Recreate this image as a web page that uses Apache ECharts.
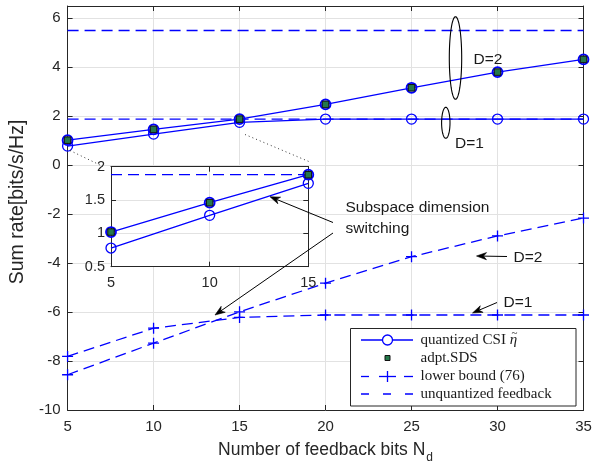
<!DOCTYPE html>
<html><head><meta charset="utf-8">
<script src="https://cdn.jsdelivr.net/npm/echarts@6/dist/echarts.min.js"></script>
<style>html,body{margin:0;padding:0;background:#fff}#c{width:599px;height:469px}</style>
</head><body><div id="c"></div>
<script>
// ---------------- data ----------------
const feedbackBits = [5, 10, 15, 20, 25, 30, 35];
const quantD1 = [0.78, 1.27, 1.75, 1.88, 1.88, 1.88, 1.88];
const quantD2 = [1.02, 1.46, 1.88, 2.48, 3.16, 3.80, 4.32];
const adptSDS = [1.02, 1.46, 1.88, 2.48, 3.16, 3.80, 4.32];
const lowerD1 = [-7.81, -6.66, -6.22, -6.12, -6.12, -6.12, -6.12];
const lowerD2 = [-8.56, -7.27, -5.99, -4.82, -3.74, -2.89, -2.16];
const unquantX = [5, 35];
const unquantD1 = [1.88, 1.88];
const unquantD2 = [5.5, 5.5];
const insetBits = [5, 10, 15];
const insetUnquantX = [5, 15];
const xTickLabels = ['5', '10', '15', '20', '25', '30', '35'];
const yTickLabels = ['-10', '-8', '-6', '-4', '-2', '0', '2', '4', '6'];
const insetXTickLabels = ['5', '10', '15'];
const insetYTickLabels = ['0.5', '1', '1.5', '2'];
const legendNames = ['quantized CSI ', 'adpt.SDS', 'lower bound (76)', 'unquantized feedback'];

// ---------------- styling ----------------
const BLUE = '#0000ff';
const AX = '#262626';
const GRIDC = '#e2e2e2';
const SANS = '"Liberation Sans", Arial, Helvetica, sans-serif';
const SERIF = '"Liberation Serif", "Times New Roman", serif';
const DASH = [11, 6];
const CROSS = 'path://M5,0L5,10M0,5L10,5';

function pts(xs, ys) { return xs.map((x, i) => [x, ys[i]]); }
function labelFmt(list) { return v => { const s = String(+v.toFixed(2)); return list.includes(s) ? s : ''; }; }

function xAx(grid, pos, opts) {
  return Object.assign({
    type: 'value', gridIndex: grid, position: pos,
    axisLine: { show: true, onZero: false, lineStyle: { color: AX, width: 1 } },
    axisTick: { show: true, inside: true, length: 5, lineStyle: { color: AX, width: 1 } },
    splitLine: { show: false }, axisLabel: { show: false }
  }, opts);
}
function yAx(grid, pos, opts) { return xAx(grid, pos, opts); }

const mainX = { min: 5, max: 35, interval: 5 };
const mainY = { min: -10, max: 6.5, interval: 2 };
const insX = { min: 5, max: 15, interval: 5 };
const insY = { min: 0.5, max: 2, interval: 0.5 };

const chart = echarts.init(document.getElementById('c'), null, { renderer: 'canvas' });

const option = {
  animation: false,
  backgroundColor: '#fff',
  grid: [
    { left: 65, top: 6, width: 518.5, height: 408.3, show: false },
    { left: 111, top: 166.7, width: 197.3, height: 100, show: true, backgroundColor: '#fff', borderWidth: 0, z: 3 }
  ],
  xAxis: [
    xAx(0, 'bottom', Object.assign({}, mainX, {
      splitLine: { show: true, lineStyle: { color: GRIDC, width: 1 } },
      axisLabel: { show: true, color: AX, fontSize: 15, fontFamily: SANS, margin: 9, formatter: labelFmt(xTickLabels) },
      name: '{m|Number of feedback bits N}{s|d}', nameLocation: 'middle', nameGap: 31,
      nameTextStyle: { rich: {
        m: { fontSize: 17.5, fontFamily: SANS, color: AX, lineHeight: 20, verticalAlign: 'top' },
        s: { fontSize: 12, fontFamily: SANS, color: AX, lineHeight: 12, padding: [11, 0, 0, 1], verticalAlign: 'top' }
      } }
    })),
    xAx(0, 'top', Object.assign({}, mainX)),
    xAx(1, 'bottom', Object.assign({}, insX, { z: 4,
      splitLine: { show: true, lineStyle: { color: GRIDC, width: 1 } },
      axisLabel: { show: true, color: AX, fontSize: 14.5, fontFamily: SANS, margin: 9, formatter: labelFmt(insetXTickLabels) } })),
    xAx(1, 'top', Object.assign({}, insX, { z: 4 }))
  ],
  yAxis: [
    yAx(0, 'left', Object.assign({}, mainY, {
      splitLine: { show: true, lineStyle: { color: GRIDC, width: 1 } },
      axisLabel: { show: true, color: AX, fontSize: 15, fontFamily: SANS, margin: 7, formatter: labelFmt(yTickLabels) },
      name: 'Sum rate[bits/s/Hz]', nameLocation: 'middle', nameGap: 32,
      nameTextStyle: { fontSize: 19.5, fontFamily: SANS, color: AX, padding: [0, 0, 0, 12] }
    })),
    yAx(0, 'right', Object.assign({}, mainY)),
    yAx(1, 'left', Object.assign({}, insY, { z: 4,
      splitLine: { show: true, lineStyle: { color: GRIDC, width: 1 } },
      axisLabel: { show: true, color: AX, fontSize: 14.5, fontFamily: SANS, margin: 6, formatter: labelFmt(insetYTickLabels) } })),
    yAx(1, 'right', Object.assign({}, insY, { z: 4 }))
  ],
  series: []
};

function quantSeries(xi, yi, xs, ys, d2, z) {
  return {
    type: 'line', xAxisIndex: xi, yAxisIndex: yi, data: pts(xs, ys), clip: false, z: z,
    symbol: 'circle', symbolSize: 10,
    itemStyle: { color: d2 ? 'rgba(70,80,200,0.45)' : 'rgba(0,0,0,0)', borderColor: BLUE, borderWidth: d2 ? 1.8 : 1.3 },
    lineStyle: { color: BLUE, width: 1.3 }
  };
}
function sdsSeries(xi, yi, xs, ys, z) {
  return {
    type: 'scatter', xAxisIndex: xi, yAxisIndex: yi, data: pts(xs, ys), clip: false, z: z,
    symbol: 'rect', symbolSize: 6.5,
    itemStyle: { color: '#24784a', borderColor: '#111', borderWidth: 1, opacity: 1 }
  };
}
function lowerSeries(ys) {
  return {
    type: 'line', xAxisIndex: 0, yAxisIndex: 0, data: pts(feedbackBits, ys), clip: false, z: 2,
    symbol: CROSS, symbolSize: 11,
    itemStyle: { color: 'rgba(0,0,0,0)', borderColor: BLUE, borderWidth: 1.3 },
    lineStyle: { color: BLUE, width: 1.3, type: DASH }
  };
}
function unquantSeries(xi, yi, xs, ys, z) {
  return {
    type: 'line', xAxisIndex: xi, yAxisIndex: yi, data: pts(xs, ys), clip: false, z: z,
    symbol: 'none', lineStyle: { color: BLUE, width: 1.3, type: DASH }
  };
}

option.series = [
  unquantSeries(0, 0, unquantX, unquantD2, 2),
  unquantSeries(0, 0, unquantX, unquantD1, 2),
  lowerSeries(lowerD1),
  lowerSeries(lowerD2),
  quantSeries(0, 0, feedbackBits, quantD1, false, 3),
  quantSeries(0, 0, feedbackBits, quantD2, true, 3),
  sdsSeries(0, 0, feedbackBits, adptSDS, 4),
  unquantSeries(2, 2, insetUnquantX, unquantD1.slice(0, 2), 5),
  quantSeries(2, 2, insetBits, quantD1.slice(0, 3), false, 6),
  quantSeries(2, 2, insetBits, quantD2.slice(0, 3), true, 6),
  sdsSeries(2, 2, insetBits, adptSDS.slice(0, 3), 7)
];

chart.setOption(option);

// ---------------- annotations ----------------
const g = [];
const Z = 20;
function line(x1, y1, x2, y2, extra) {
  g.push(Object.assign({ type: 'line', z: Z, shape: { x1, y1, x2, y2 }, style: { stroke: '#000', lineWidth: 1 } }, extra || {}));
}
function arrow(x1, y1, x2, y2) {
  const a = Math.atan2(y2 - y1, x2 - x1), L = 10, W = 3.6;
  const bx = x2 - L * Math.cos(a), by = y2 - L * Math.sin(a);
  const nx = -Math.sin(a), ny = Math.cos(a);
  const mx = x2 - 0.7 * L * Math.cos(a), my = y2 - 0.7 * L * Math.sin(a);
  line(x1, y1, mx, my);
  g.push({ type: 'polygon', z: Z, shape: { points: [[x2, y2], [bx + nx * W, by + ny * W], [mx, my], [bx - nx * W, by - ny * W]] }, style: { fill: '#000', stroke: '#000', lineWidth: 0.6 } });
}
function ellipse(cx, cy, rx, ry) {
  const p = [];
  for (let i = 0; i < 72; i++) { const t = i / 72 * Math.PI * 2; p.push([cx + rx * Math.cos(t), cy + ry * Math.sin(t)]); }
  g.push({ type: 'polygon', z: Z, shape: { points: p }, style: { fill: 'none', stroke: '#000', lineWidth: 1.1 } });
}
function text(x, y, s, size, extra) {
  g.push(Object.assign({ type: 'text', z: Z, x, y, style: { text: s, fill: '#1a1a1a', font: size + 'px ' + SANS, textVerticalAlign: 'middle', verticalAlign: 'middle' } }, extra || {}));
}

// dotted zoom connectors
line(70, 150.5, 103, 166.5, { style: { stroke: '#333', lineWidth: 1, lineDash: [1, 3] } });
line(245, 134.5, 310, 162, { style: { stroke: '#333', lineWidth: 1, lineDash: [1, 3] } });
// ellipses + labels
ellipse(455.5, 58, 6.2, 41.3);
text(473.5, 60, 'D=2', 15.5);
ellipse(445.8, 122.8, 4.2, 15.5);
text(455, 144, 'D=1', 15.5);
// subspace switching
text(345.5, 207.5, 'Subspace dimension', 15.5);
text(345.5, 228.5, 'switching', 15.5);
arrow(333, 222.5, 270, 196.7);
arrow(333, 233, 215, 315);
// lower-bound labels
text(513.5, 258, 'D=2', 15.5);
arrow(507, 256.5, 476.5, 256);
text(503.5, 302.5, 'D=1', 15.5);
arrow(497, 302.5, 472.5, 313);

// legend
const LX = 350.5, LY = 328.5;
g.push({ type: 'rect', z: Z, shape: { x: LX, y: LY, width: 225.5, height: 77.5 }, style: { fill: '#fff', stroke: AX, lineWidth: 1 } });
const rows = [340, 358, 376.5, 394];
const lx1 = 361, lx2 = 413, lmid = 387.5, tx = 420.5;
line(lx1, rows[0], lx2, rows[0], { style: { stroke: BLUE, lineWidth: 1.3 } });
g.push({ type: 'circle', z: Z, shape: { cx: lmid, cy: rows[0], r: 5 }, style: { fill: '#fff', stroke: BLUE, lineWidth: 1.3 } });
g.push({ type: 'rect', z: Z, shape: { x: lmid - 2.5, y: rows[1] - 2.5, width: 5, height: 5 }, style: { fill: '#24784a', stroke: '#111', lineWidth: 1 } });
line(lx1, rows[2], 369, rows[2], { style: { stroke: BLUE, lineWidth: 1.3 } });
line(379, rows[2], 396, rows[2], { style: { stroke: BLUE, lineWidth: 1.3 } });
line(404, rows[2], lx2, rows[2], { style: { stroke: BLUE, lineWidth: 1.3 } });
line(lmid, rows[2] - 5.5, lmid, rows[2] + 5.5, { style: { stroke: BLUE, lineWidth: 1.3 } });
line(lx1, rows[3], lx2, rows[3], { style: { stroke: BLUE, lineWidth: 1.3, lineDash: [8, 14] } });

// measure legend text for the eta tilde placement
const mctx = document.createElement('canvas').getContext('2d');
mctx.font = '15px ' + SERIF;
const wPrefix = mctx.measureText(legendNames[0]).width;
mctx.font = 'italic 15px ' + SERIF;
const wEta = mctx.measureText('\u03B7').width;
g.push({ type: 'text', z: Z, x: tx, y: rows[0], style: { text: legendNames[0], fill: '#1a1a1a', font: '15px ' + SERIF, textVerticalAlign: 'middle', verticalAlign: 'middle' } });
g.push({ type: 'text', z: Z, x: tx + wPrefix, y: rows[0], style: { text: '\u03B7', fill: '#1a1a1a', font: 'italic 15px ' + SERIF, textVerticalAlign: 'middle', verticalAlign: 'middle' } });
g.push({ type: 'text', z: Z, x: tx + wPrefix + wEta / 2 + 1, y: rows[0] - 6.5, style: { text: '~', fill: '#1a1a1a', font: '11px ' + SERIF, textAlign: 'center', align: 'center', textVerticalAlign: 'middle', verticalAlign: 'middle' } });
for (let i = 1; i < 4; i++) {
  g.push({ type: 'text', z: Z, x: tx, y: rows[i], style: { text: legendNames[i], fill: '#1a1a1a', font: '15px ' + SERIF, textVerticalAlign: 'middle', verticalAlign: 'middle' } });
}

chart.setOption({ graphic: g });
</script>
</body></html>
